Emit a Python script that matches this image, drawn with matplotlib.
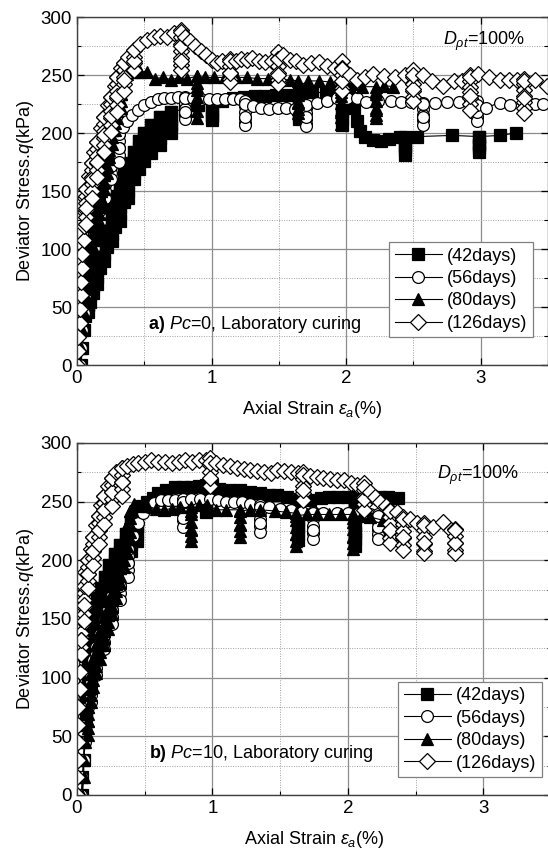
import numpy as np
import matplotlib
matplotlib.use("Agg")
import matplotlib.pyplot as plt
from matplotlib.ticker import MultipleLocator

plt.rcParams["font.family"] = ["Liberation Sans", "DejaVu Sans"]
plt.rcParams["mathtext.fontset"] = "custom"
plt.rcParams["mathtext.rm"] = "Liberation Sans"
plt.rcParams["mathtext.it"] = "Liberation Sans:italic"
plt.rcParams["mathtext.bf"] = "Liberation Sans:bold"

labels = ["(42days)", "(56days)", "(80days)", "(126days)"]

# (axial strain %, deviator stress kPa) -- Pc = 0
a_42 = [(0.03, 0), (0.04, 15), (0.05, 30), (0.06, 42), (0.07, 54), (0.08, 64),
        (0.08, 58), (0.08, 52), (0.08, 46), (0.08, 52), (0.08, 64),
        (0.09, 72), (0.10, 78),
        (0.10, 72), (0.10, 66), (0.10, 60), (0.10, 54), (0.10, 66), (0.10, 78),
        (0.12, 86),
        (0.12, 80), (0.12, 74), (0.12, 68), (0.12, 62), (0.12, 74), (0.12, 86),
        (0.13, 90), (0.15, 100),
        (0.15, 94), (0.15, 88), (0.15, 82), (0.15, 76), (0.15, 70), (0.15, 85), (0.15, 100),
        (0.17, 108),
        (0.17, 102), (0.17, 96), (0.17, 90), (0.17, 84), (0.17, 96), (0.17, 108),
        (0.18, 112), (0.20, 120),
        (0.20, 114), (0.20, 108), (0.20, 102), (0.20, 96), (0.20, 90), (0.20, 105), (0.20, 120),
        (0.22, 126),
        (0.22, 120), (0.22, 114), (0.22, 108), (0.22, 102), (0.22, 114), (0.22, 126),
        (0.23, 129), (0.26, 137),
        (0.26, 131), (0.26, 125), (0.26, 119), (0.26, 113), (0.26, 107), (0.26, 122), (0.26, 137),
        (0.28, 143),
        (0.28, 137), (0.28, 131), (0.28, 125), (0.28, 119), (0.28, 131), (0.28, 143),
        (0.29, 146), (0.32, 154),
        (0.32, 148), (0.32, 142), (0.32, 136), (0.32, 130), (0.32, 124), (0.32, 140), (0.32, 154),
        (0.35, 165),
        (0.35, 159), (0.35, 153), (0.35, 147), (0.35, 141), (0.35, 153), (0.35, 165),
        (0.38, 174),
        (0.38, 168), (0.38, 162), (0.38, 156), (0.38, 150), (0.38, 144), (0.38, 160), (0.38, 174),
        (0.42, 184),
        (0.42, 178), (0.42, 172), (0.42, 166), (0.42, 160), (0.42, 172), (0.42, 184),
        (0.46, 193),
        (0.46, 187), (0.46, 181), (0.46, 175), (0.46, 169), (0.46, 180), (0.46, 193),
        (0.50, 200),
        (0.50, 194), (0.50, 188), (0.50, 182), (0.50, 176), (0.50, 188), (0.50, 200),
        (0.55, 207),
        (0.55, 201), (0.55, 195), (0.55, 189), (0.55, 183), (0.55, 195), (0.55, 207),
        (0.62, 214),
        (0.62, 208), (0.62, 202), (0.62, 196), (0.62, 190), (0.62, 202), (0.62, 214),
        (0.70, 218),
        (0.70, 212), (0.70, 206), (0.70, 200), (0.70, 208), (0.70, 218),
        (0.80, 221), (0.90, 224), (1.00, 226),
        (1.00, 220), (1.00, 215), (1.00, 211), (1.00, 216), (1.00, 226),
        (1.08, 228), (1.16, 230), (1.24, 231), (1.32, 232), (1.40, 232), (1.48, 233), (1.56, 233), (1.65, 234),
        (1.65, 228), (1.65, 222), (1.65, 216), (1.65, 212), (1.65, 222), (1.65, 234),
        (1.75, 235), (1.85, 235), (1.95, 236),
        (1.97, 230), (1.97, 224), (1.97, 218), (1.97, 212), (1.97, 207), (1.97, 218), (1.97, 235),
        (2.02, 235), (2.06, 222), (2.08, 210), (2.10, 202), (2.14, 197), (2.20, 194), (2.26, 193),
        (2.32, 195), (2.40, 197), (2.44, 196),
        (2.44, 190), (2.44, 185), (2.44, 181), (2.44, 188), (2.44, 197),
        (2.53, 197), (2.79, 198), (2.99, 197),
        (2.99, 191), (2.99, 187), (2.99, 184), (2.99, 190), (2.99, 197),
        (3.14, 198), (3.26, 200)]

a_56 = [(0.02, 0), (0.03, 15), (0.04, 30), (0.05, 45), (0.06, 60), (0.07, 75), (0.08, 90), (0.09, 102),
        (0.09, 96), (0.09, 90), (0.09, 84), (0.09, 78), (0.09, 90), (0.09, 102),
        (0.11, 114), (0.13, 125),
        (0.13, 119), (0.13, 113), (0.13, 107), (0.13, 101), (0.13, 112), (0.13, 125),
        (0.15, 136), (0.17, 147),
        (0.17, 141), (0.17, 135), (0.17, 129), (0.17, 123), (0.17, 134), (0.17, 147),
        (0.19, 158), (0.21, 168),
        (0.21, 162), (0.21, 156), (0.21, 150), (0.21, 144), (0.21, 156), (0.21, 168),
        (0.23, 177), (0.25, 184),
        (0.25, 178), (0.25, 172), (0.25, 166), (0.25, 160), (0.25, 172), (0.25, 184),
        (0.28, 192), (0.31, 199),
        (0.31, 193), (0.31, 187), (0.31, 181), (0.31, 175), (0.31, 187), (0.31, 199),
        (0.34, 205), (0.37, 210), (0.41, 216), (0.45, 220), (0.50, 224), (0.55, 227), (0.60, 229),
        (0.65, 230), (0.70, 230), (0.75, 231), (0.80, 231),
        (0.80, 226), (0.80, 221), (0.80, 216), (0.80, 212), (0.80, 218), (0.80, 230),
        (0.86, 230), (0.92, 229), (0.98, 229), (1.04, 229), (1.10, 229), (1.16, 229), (1.21, 229), (1.25, 228),
        (1.25, 223), (1.25, 218), (1.25, 213), (1.25, 209), (1.25, 207), (1.25, 214), (1.25, 225),
        (1.31, 223), (1.37, 222), (1.43, 221), (1.49, 222), (1.55, 222), (1.62, 221), (1.70, 222),
        (1.70, 217), (1.70, 212), (1.70, 208), (1.70, 206), (1.70, 214), (1.70, 224),
        (1.78, 226), (1.86, 228), (1.93, 230), (2.01, 230), (2.08, 230), (2.15, 227),
        (2.24, 228), (2.33, 228), (2.41, 227), (2.48, 227), (2.57, 226),
        (2.57, 221), (2.57, 216), (2.57, 211), (2.57, 207), (2.57, 214), (2.57, 225),
        (2.66, 226), (2.75, 227), (2.84, 227), (2.92, 227), (2.97, 228),
        (2.97, 223), (2.97, 218), (2.97, 214), (2.97, 210), (2.97, 218), (2.97, 224),
        (3.04, 222), (3.14, 226), (3.22, 224), (3.32, 226), (3.40, 225), (3.46, 225)]

a_80 = [(0.02, 0), (0.03, 15), (0.04, 30), (0.05, 45), (0.06, 60), (0.07, 75), (0.08, 90),
        (0.08, 84), (0.08, 78), (0.08, 72), (0.08, 66), (0.08, 78), (0.08, 90),
        (0.10, 105),
        (0.10, 99), (0.10, 93), (0.10, 87), (0.10, 81), (0.10, 93), (0.10, 105),
        (0.12, 120),
        (0.12, 114), (0.12, 108), (0.12, 102), (0.12, 96), (0.12, 108), (0.12, 120),
        (0.14, 134),
        (0.14, 128), (0.14, 122), (0.14, 116), (0.14, 110), (0.14, 122), (0.14, 134),
        (0.16, 148),
        (0.16, 142), (0.16, 136), (0.16, 130), (0.16, 124), (0.16, 136), (0.16, 148),
        (0.18, 162),
        (0.18, 156), (0.18, 150), (0.18, 144), (0.18, 138), (0.18, 150), (0.18, 162),
        (0.20, 176),
        (0.20, 170), (0.20, 164), (0.20, 158), (0.20, 152), (0.20, 164), (0.20, 176),
        (0.22, 190),
        (0.22, 184), (0.22, 178), (0.22, 172), (0.22, 166), (0.22, 178), (0.22, 190),
        (0.24, 203),
        (0.24, 197), (0.24, 191), (0.24, 185), (0.24, 179), (0.24, 191), (0.24, 203),
        (0.26, 215),
        (0.26, 209), (0.26, 203), (0.26, 197), (0.26, 191), (0.26, 203), (0.26, 215),
        (0.28, 227),
        (0.28, 221), (0.28, 215), (0.28, 209), (0.28, 203), (0.28, 215), (0.28, 227),
        (0.30, 237),
        (0.30, 231), (0.30, 225), (0.30, 219), (0.30, 213), (0.30, 225), (0.30, 237),
        (0.33, 246),
        (0.33, 240), (0.33, 234), (0.33, 228), (0.33, 222), (0.33, 234), (0.33, 246),
        (0.37, 251), (0.42, 253), (0.47, 253), (0.52, 253), (0.58, 247), (0.64, 248),
        (0.70, 246), (0.76, 248), (0.82, 247), (0.89, 249),
        (0.89, 243), (0.89, 237), (0.89, 231), (0.89, 225), (0.89, 219), (0.89, 213), (0.89, 224),
        (0.89, 240), (0.89, 249),
        (0.95, 248), (1.02, 248), (1.10, 248), (1.18, 248), (1.26, 248), (1.34, 247), (1.42, 247),
        (1.50, 246), (1.58, 246), (1.64, 245),
        (1.64, 239), (1.64, 233), (1.64, 227), (1.64, 221), (1.64, 217), (1.64, 226), (1.64, 240),
        (1.72, 245), (1.80, 245), (1.88, 244), (1.96, 244),
        (1.96, 238), (1.96, 232), (1.96, 226), (1.96, 220), (1.96, 214), (1.96, 208), (1.96, 218),
        (1.96, 235),
        (2.04, 242), (2.12, 240), (2.22, 240),
        (2.22, 234), (2.22, 228), (2.22, 222), (2.22, 216), (2.22, 213), (2.22, 220), (2.22, 236),
        (2.28, 241), (2.35, 240)]

a_126 = [(0.00, 0), (0.01, 12), (0.01, 24), (0.02, 36), (0.02, 48), (0.03, 60), (0.03, 72), (0.04, 84),
         (0.04, 96), (0.05, 108), (0.05, 120), (0.06, 132), (0.06, 144), (0.07, 152),
         (0.07, 146), (0.07, 140), (0.07, 134), (0.07, 128), (0.07, 122), (0.07, 135), (0.07, 152),
         (0.09, 163), (0.11, 174),
         (0.11, 168), (0.11, 162), (0.11, 156), (0.11, 150), (0.11, 144), (0.11, 160), (0.11, 174),
         (0.13, 184), (0.15, 192),
         (0.15, 186), (0.15, 180), (0.15, 174), (0.15, 168), (0.15, 162), (0.15, 175), (0.15, 192),
         (0.18, 204), (0.20, 214),
         (0.20, 208), (0.20, 202), (0.20, 196), (0.20, 190), (0.20, 184), (0.20, 198), (0.20, 214),
         (0.23, 224), (0.25, 231),
         (0.25, 225), (0.25, 219), (0.25, 213), (0.25, 207), (0.25, 201), (0.25, 215), (0.25, 231),
         (0.28, 241), (0.30, 248),
         (0.30, 242), (0.30, 236), (0.30, 230), (0.30, 224), (0.30, 218), (0.30, 232), (0.30, 248),
         (0.33, 256), (0.35, 260),
         (0.35, 254), (0.35, 248), (0.35, 242), (0.35, 236), (0.35, 246), (0.35, 260),
         (0.38, 266), (0.42, 272),
         (0.42, 266), (0.42, 260), (0.42, 254), (0.42, 262), (0.42, 272),
         (0.47, 277), (0.52, 280), (0.57, 283), (0.62, 284), (0.67, 283), (0.72, 286), (0.77, 289),
         (0.77, 283), (0.77, 277), (0.77, 271), (0.77, 265), (0.77, 259), (0.77, 254), (0.77, 262),
         (0.77, 275), (0.77, 287),
         (0.80, 283), (0.84, 279), (0.88, 275), (0.92, 271), (0.96, 267), (1.00, 263), (1.04, 260),
         (1.08, 262), (1.14, 264),
         (1.14, 258), (1.14, 252), (1.14, 247), (1.14, 244), (1.14, 252), (1.14, 262),
         (1.18, 262), (1.22, 264), (1.26, 263), (1.30, 265), (1.35, 262), (1.40, 261), (1.45, 262),
         (1.49, 270),
         (1.49, 264), (1.49, 258), (1.49, 252), (1.49, 246), (1.49, 242), (1.49, 250), (1.49, 264),
         (1.53, 267), (1.58, 263), (1.63, 262), (1.68, 259), (1.74, 260), (1.80, 261), (1.86, 258),
         (1.92, 256), (1.97, 262),
         (1.97, 256), (1.97, 250), (1.97, 244), (1.97, 239), (1.97, 236), (1.97, 245), (1.97, 255),
         (2.03, 250), (2.08, 246), (2.14, 248), (2.20, 251), (2.28, 249), (2.36, 248), (2.44, 250),
         (2.50, 254),
         (2.50, 248), (2.50, 242), (2.50, 236), (2.50, 231), (2.50, 228), (2.50, 238), (2.50, 250),
         (2.57, 250), (2.64, 245), (2.72, 241), (2.80, 245), (2.86, 245), (2.92, 250),
         (2.92, 245), (2.92, 240), (2.92, 235), (2.92, 230), (2.92, 225), (2.92, 220), (2.92, 232),
         (2.92, 248),
         (2.98, 251), (3.06, 248), (3.14, 246), (3.21, 246), (3.27, 246), (3.32, 247),
         (3.32, 242), (3.32, 237), (3.32, 232), (3.32, 227), (3.32, 222), (3.32, 217), (3.32, 230),
         (3.32, 245),
         (3.40, 246), (3.49, 241)]

# (axial strain %, deviator stress kPa) -- Pc = 10
b_42 = [(0.04, 0), (0.04, 15), (0.05, 30), (0.05, 45), (0.06, 60), (0.06, 75), (0.07, 90),
        (0.07, 84), (0.07, 78), (0.07, 72), (0.07, 66), (0.07, 78), (0.07, 90),
        (0.07, 105), (0.08, 120),
        (0.08, 114), (0.08, 108), (0.08, 102), (0.08, 96), (0.08, 108), (0.08, 120),
        (0.09, 135),
        (0.09, 129), (0.09, 123), (0.09, 117), (0.09, 111), (0.09, 123), (0.09, 135),
        (0.10, 148), (0.12, 158),
        (0.12, 152), (0.12, 146), (0.12, 140), (0.12, 134), (0.12, 146), (0.12, 158),
        (0.15, 168),
        (0.15, 162), (0.15, 156), (0.15, 150), (0.15, 144), (0.15, 156), (0.15, 168),
        (0.18, 176),
        (0.18, 170), (0.18, 164), (0.18, 158), (0.18, 152), (0.18, 164), (0.18, 176),
        (0.21, 186),
        (0.21, 180), (0.21, 174), (0.21, 168), (0.21, 162), (0.21, 174), (0.21, 186),
        (0.24, 196),
        (0.24, 190), (0.24, 184), (0.24, 178), (0.24, 172), (0.24, 184), (0.24, 196),
        (0.28, 205),
        (0.28, 199), (0.28, 193), (0.28, 187), (0.28, 181), (0.28, 193), (0.28, 205),
        (0.32, 213),
        (0.32, 207), (0.32, 201), (0.32, 195), (0.32, 189), (0.32, 201), (0.32, 213),
        (0.36, 222),
        (0.36, 216), (0.36, 210), (0.36, 204), (0.36, 198), (0.36, 210), (0.36, 222),
        (0.40, 232),
        (0.40, 226), (0.40, 220), (0.40, 214), (0.40, 208), (0.40, 220), (0.40, 232),
        (0.44, 240),
        (0.44, 234), (0.44, 228), (0.44, 222), (0.44, 216), (0.44, 228), (0.44, 240),
        (0.48, 246), (0.52, 250), (0.56, 253), (0.60, 257), (0.66, 260), (0.72, 262),
        (0.78, 262), (0.84, 262), (0.90, 263), (0.95, 264),
        (0.95, 258), (0.95, 252), (0.95, 246), (0.95, 241), (0.95, 250), (0.95, 263),
        (1.00, 264), (1.05, 261), (1.12, 260), (1.20, 260), (1.28, 258), (1.35, 257), (1.42, 256),
        (1.48, 256), (1.55, 254), (1.63, 252),
        (1.63, 246), (1.63, 240), (1.63, 234), (1.63, 228), (1.63, 222), (1.63, 217), (1.63, 228),
        (1.63, 245),
        (1.72, 251), (1.80, 253), (1.86, 254), (1.93, 254), (2.00, 254), (2.05, 254),
        (2.05, 248), (2.05, 242), (2.05, 236), (2.05, 230), (2.05, 224), (2.05, 218), (2.05, 212),
        (2.05, 222), (2.05, 240), (2.05, 254),
        (2.12, 254), (2.18, 254), (2.24, 254), (2.30, 254), (2.37, 253)]

b_56 = [(0.03, 0), (0.04, 15), (0.05, 30), (0.06, 45), (0.07, 60), (0.08, 75), (0.09, 90), (0.10, 103),
        (0.10, 97), (0.10, 91), (0.10, 85), (0.10, 79), (0.10, 91), (0.10, 103),
        (0.12, 115), (0.14, 126),
        (0.14, 120), (0.14, 114), (0.14, 108), (0.14, 102), (0.14, 114), (0.14, 126),
        (0.17, 137), (0.20, 148),
        (0.20, 142), (0.20, 136), (0.20, 130), (0.20, 124), (0.20, 136), (0.20, 148),
        (0.23, 159), (0.26, 170),
        (0.26, 164), (0.26, 158), (0.26, 152), (0.26, 146), (0.26, 158), (0.26, 170),
        (0.29, 180), (0.32, 190),
        (0.32, 184), (0.32, 178), (0.32, 172), (0.32, 166), (0.32, 178), (0.32, 190),
        (0.35, 200), (0.38, 210),
        (0.38, 204), (0.38, 198), (0.38, 192), (0.38, 186), (0.38, 198), (0.38, 210),
        (0.41, 221), (0.45, 232), (0.49, 240), (0.53, 245), (0.57, 249), (0.62, 251), (0.67, 251),
        (0.72, 251), (0.78, 252),
        (0.78, 246), (0.78, 240), (0.78, 234), (0.78, 228), (0.78, 236), (0.78, 250),
        (0.84, 252), (0.91, 252), (0.98, 252), (1.04, 251), (1.10, 250), (1.16, 250), (1.22, 250),
        (1.28, 248), (1.35, 247),
        (1.35, 241), (1.35, 235), (1.35, 229), (1.35, 224), (1.35, 232), (1.35, 245),
        (1.42, 245), (1.50, 244), (1.58, 243), (1.66, 241), (1.74, 241),
        (1.74, 235), (1.74, 229), (1.74, 223), (1.74, 218), (1.74, 226), (1.74, 240),
        (1.82, 240), (1.92, 240), (2.00, 240), (2.08, 240), (2.16, 239), (2.22, 239),
        (2.22, 233), (2.22, 227), (2.22, 222), (2.22, 218), (2.22, 228), (2.22, 238),
        (2.30, 236), (2.38, 232)]

b_80 = [(0.04, 0), (0.05, 15), (0.05, 30), (0.06, 45), (0.07, 60), (0.08, 75),
        (0.08, 69), (0.08, 63), (0.08, 57), (0.08, 51), (0.08, 63), (0.08, 75),
        (0.09, 90), (0.10, 103),
        (0.10, 97), (0.10, 91), (0.10, 85), (0.10, 79), (0.10, 91), (0.10, 103),
        (0.12, 116),
        (0.12, 110), (0.12, 104), (0.12, 98), (0.12, 92), (0.12, 104), (0.12, 116),
        (0.14, 128),
        (0.14, 122), (0.14, 116), (0.14, 110), (0.14, 104), (0.14, 116), (0.14, 128),
        (0.17, 140),
        (0.17, 134), (0.17, 128), (0.17, 122), (0.17, 116), (0.17, 128), (0.17, 140),
        (0.20, 152),
        (0.20, 146), (0.20, 140), (0.20, 134), (0.20, 128), (0.20, 140), (0.20, 152),
        (0.23, 165),
        (0.23, 159), (0.23, 153), (0.23, 147), (0.23, 141), (0.23, 153), (0.23, 165),
        (0.26, 178),
        (0.26, 172), (0.26, 166), (0.26, 160), (0.26, 154), (0.26, 166), (0.26, 178),
        (0.29, 192),
        (0.29, 186), (0.29, 180), (0.29, 174), (0.29, 168), (0.29, 180), (0.29, 192),
        (0.32, 205),
        (0.32, 199), (0.32, 193), (0.32, 187), (0.32, 181), (0.32, 193), (0.32, 205),
        (0.35, 218),
        (0.35, 212), (0.35, 206), (0.35, 200), (0.35, 194), (0.35, 206), (0.35, 218),
        (0.37, 230),
        (0.37, 224), (0.37, 218), (0.37, 212), (0.37, 206), (0.37, 218), (0.37, 230),
        (0.39, 242),
        (0.39, 236), (0.39, 230), (0.39, 224), (0.39, 218), (0.39, 230), (0.39, 242),
        (0.42, 248), (0.47, 246), (0.52, 246), (0.58, 244), (0.64, 243), (0.70, 244),
        (0.76, 245), (0.84, 245),
        (0.84, 239), (0.84, 233), (0.84, 227), (0.84, 221), (0.84, 216), (0.84, 226), (0.84, 242),
        (0.90, 247), (0.96, 247), (1.03, 243), (1.10, 243), (1.20, 243),
        (1.20, 237), (1.20, 231), (1.20, 225), (1.20, 220), (1.20, 230), (1.20, 242),
        (1.28, 243), (1.35, 243), (1.46, 242), (1.54, 241), (1.62, 240),
        (1.62, 234), (1.62, 228), (1.62, 222), (1.62, 216), (1.62, 212), (1.62, 222), (1.62, 238),
        (1.70, 239), (1.77, 239), (1.86, 239), (1.95, 239), (2.04, 239),
        (2.04, 233), (2.04, 227), (2.04, 221), (2.04, 215), (2.04, 210), (2.04, 220), (2.04, 236),
        (2.10, 238), (2.16, 237), (2.26, 234)]

b_126 = [(0.00, 0), (0.00, 15), (0.01, 30), (0.01, 45), (0.01, 60), (0.01, 75), (0.02, 90), (0.02, 105),
         (0.02, 120), (0.03, 135), (0.03, 150),
         (0.03, 144), (0.03, 138), (0.03, 132), (0.03, 126), (0.03, 120), (0.03, 132), (0.03, 150),
         (0.04, 164), (0.05, 178),
         (0.05, 172), (0.05, 166), (0.05, 160), (0.05, 154), (0.05, 148), (0.05, 162), (0.05, 178),
         (0.06, 190), (0.08, 200),
         (0.08, 194), (0.08, 188), (0.08, 182), (0.08, 176), (0.08, 188), (0.08, 200),
         (0.10, 210), (0.12, 220),
         (0.12, 214), (0.12, 208), (0.12, 202), (0.12, 196), (0.12, 208), (0.12, 220),
         (0.14, 230), (0.16, 238),
         (0.16, 232), (0.16, 226), (0.16, 220), (0.16, 214), (0.16, 226), (0.16, 238),
         (0.18, 247), (0.20, 255),
         (0.20, 249), (0.20, 243), (0.20, 237), (0.20, 231), (0.20, 243), (0.20, 255),
         (0.23, 263), (0.26, 270),
         (0.26, 264), (0.26, 258), (0.26, 252), (0.26, 246), (0.26, 258), (0.26, 270),
         (0.29, 275), (0.33, 279),
         (0.33, 273), (0.33, 267), (0.33, 261), (0.33, 255), (0.33, 267), (0.33, 279),
         (0.37, 280), (0.41, 282), (0.45, 283), (0.50, 284), (0.55, 285), (0.60, 284), (0.65, 284),
         (0.70, 283), (0.75, 284), (0.80, 285), (0.85, 284), (0.90, 285), (0.95, 285), (0.98, 287),
         (0.98, 281), (0.98, 275), (0.98, 269), (0.98, 263), (0.98, 270), (0.98, 283),
         (1.03, 283), (1.08, 281), (1.13, 280), (1.18, 279), (1.23, 278), (1.28, 277), (1.33, 276),
         (1.38, 275), (1.43, 274), (1.48, 277), (1.53, 276), (1.58, 275), (1.63, 274), (1.67, 275),
         (1.67, 269), (1.67, 263), (1.67, 257), (1.67, 251), (1.67, 260), (1.67, 273),
         (1.72, 272), (1.77, 271), (1.82, 270), (1.87, 269), (1.92, 268), (1.97, 268), (2.02, 266),
         (2.07, 264), (2.12, 266),
         (2.12, 260), (2.12, 254), (2.12, 248), (2.12, 243), (2.12, 252), (2.12, 262),
         (2.16, 258), (2.20, 254), (2.24, 250), (2.28, 246), (2.31, 243),
         (2.31, 237), (2.31, 231), (2.31, 225), (2.31, 219), (2.31, 215), (2.31, 226), (2.31, 242),
         (2.36, 241), (2.41, 237),
         (2.41, 231), (2.41, 225), (2.41, 219), (2.41, 213), (2.41, 209), (2.41, 220), (2.41, 235),
         (2.46, 235), (2.51, 232), (2.56, 232),
         (2.56, 226), (2.56, 220), (2.56, 214), (2.56, 208), (2.56, 206), (2.56, 215), (2.56, 230),
         (2.63, 228), (2.70, 233), (2.76, 226), (2.79, 227),
         (2.79, 221), (2.79, 215), (2.79, 209), (2.79, 206), (2.79, 215), (2.79, 226)]

styles = [dict(marker="s", ms=8, mfc="black", mec="black"),
          dict(marker="o", ms=8.5, mfc="white", mec="black"),
          dict(marker="^", ms=9, mfc="black", mec="black"),
          dict(marker="D", ms=8, mfc="white", mec="black")]


def draw_panel(ax, series, tag, pc, density_pos, legend_box):
    for pts, lab, st in zip(series, labels, styles):
        arr = np.array(pts, dtype=float)
        ax.plot(arr[:, 0], arr[:, 1], color="black", lw=0.8, mew=0.9, label=lab, **st)

    ax.set_xlim(0, 3.5)
    ax.set_ylim(0, 300)
    ax.xaxis.set_major_locator(MultipleLocator(1))
    ax.xaxis.set_minor_locator(MultipleLocator(0.5))
    ax.yaxis.set_major_locator(MultipleLocator(50))
    ax.yaxis.set_minor_locator(MultipleLocator(25))
    ax.grid(which="major", color="#8c8c8c", lw=0.9, ls="-")
    ax.grid(which="minor", color="#a0a0a0", lw=0.7, ls=(0, (1, 1.5)))
    ax.set_axisbelow(True)
    ax.tick_params(which="both", direction="in", top=True, right=True, labelsize=13.5)
    ax.tick_params(which="major", length=5, width=0.9)
    ax.tick_params(which="minor", length=3, width=0.8)
    for sp in ax.spines.values():
        sp.set_color("#404040")
        sp.set_linewidth(1.0)

    ax.set_xlabel(r"Axial Strain $\varepsilon_a$(%)", fontsize=13, labelpad=9)
    ax.set_ylabel(r"Deviator Stress.$q$(kPa)", fontsize=13, labelpad=3)

    ax.text(0.53, 35, r"$\mathbf{" + tag + r")}$ $Pc$=" + pc + ", Laboratory curing",
            fontsize=13, va="center")
    ax.text(density_pos[0], density_pos[1], r"$D_{\rho t}$=100%", fontsize=13, va="center")

    leg = ax.legend(loc="lower right", bbox_to_anchor=legend_box, borderaxespad=0,
                    fontsize=13, handlelength=2.6, handletextpad=0.3, labelspacing=0.3,
                    borderpad=0.3, fancybox=False, framealpha=1, edgecolor="#808080")
    leg.get_frame().set_linewidth(0.9)


fig = plt.figure(figsize=(5.48, 8.55), dpi=100)
ax_a = fig.add_axes([0.1405, 0.573, 0.8595, 0.407])
ax_b = fig.add_axes([0.1405, 0.0702, 0.865, 0.4118])

draw_panel(ax_a, [a_42, a_56, a_80, a_126], "a", "0", (2.72, 279), (0.968, 0.08))
draw_panel(ax_b, [b_42, b_56, b_80, b_126], "b", "10", (2.66, 272), (0.981, 0.051))

fig.savefig("out.png", dpi=100)
